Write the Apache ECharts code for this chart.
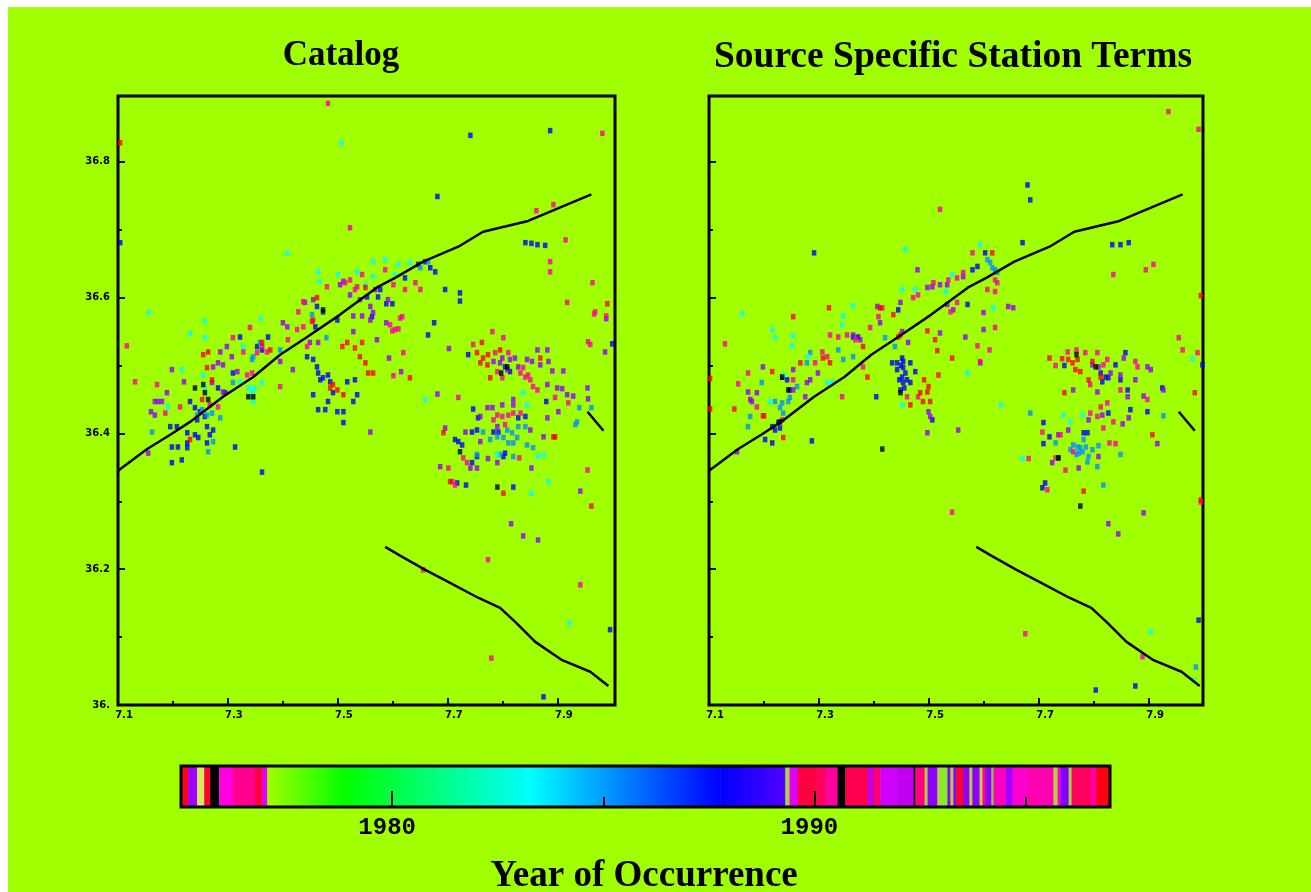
<!DOCTYPE html>
<html><head><meta charset="utf-8">
<style>html,body{margin:0;padding:0;background:#fff;overflow:hidden}#main{width:1311px;height:892px;filter:blur(0.5px)}</style>
<script src="https://cdn.jsdelivr.net/npm/echarts@6/dist/echarts.min.js"></script>
</head><body><div id="main"></div>
<script>
// Axis values and tick labels
const xTickValues=[7.1,7.3,7.5,7.7,7.9];
const xTickLabels=['7.1','7.3','7.5','7.7','7.9'];
const xMinorValues=[7.2,7.4,7.6,7.8];
const yTickValues=[36,36.2,36.4,36.6,36.8];
const yTickLabels=['36.','36.2','36.4','36.6','36.8'];
const yMinorValues=[36.1,36.3,36.5,36.7];
const barMajorYears=[1980,1990];
const barMinorYears=[1985,1995];

// Fault traces
const faultNorth=[[7.1,36.345],[7.153,36.377],[7.195,36.398],[7.231,36.417],[7.291,36.454],[7.346,36.483],[7.395,36.516],[7.444,36.542],[7.504,36.575],[7.571,36.615],[7.604,36.629],[7.655,36.653],[7.719,36.675],[7.764,36.697],[7.846,36.713],[7.961,36.752]];
const faultSouth=[[7.586,36.233],[7.613,36.22],[7.659,36.199],[7.704,36.18],[7.755,36.158],[7.795,36.143],[7.823,36.122],[7.859,36.093],[7.908,36.066],[7.959,36.049],[7.992,36.028]];
const faultEast=[[7.954,36.432],[7.983,36.404]];

// Catalog locations, by colour class of the year scale
const catalogBlue=[[7.231,36.447],[7.24,36.438],[7.249,36.432],[7.258,36.425],[7.244,36.42],[7.226,36.401],[7.226,36.386],[7.226,36.379],[7.24,36.398],[7.246,36.394],[7.262,36.41],[7.273,36.405],[7.267,36.398],[7.262,36.386],[7.198,36.38],[7.209,36.38],[7.313,36.38],[7.362,36.343],[7.198,36.357],[7.216,36.361],[7.195,36.41],[7.207,36.41],[7.444,36.513],[7.455,36.509],[7.462,36.498],[7.464,36.489],[7.473,36.482],[7.482,36.486],[7.486,36.476],[7.468,36.479],[7.455,36.457],[7.491,36.46],[7.535,36.457],[7.528,36.447],[7.464,36.435],[7.477,36.435],[7.499,36.432],[7.51,36.432],[7.51,36.416],[7.482,36.447],[7.517,36.476],[7.531,36.479],[7.462,36.587],[7.459,36.557],[7.473,36.579],[7.499,36.567],[7.573,36.601],[7.562,36.572],[7.553,36.601],[7.309,36.489],[7.282,36.467],[7.295,36.46],[7.362,36.523],[7.353,36.528],[7.373,36.542],[7.322,36.542],[7.659,36.653],[7.668,36.644],[7.646,36.649],[7.677,36.638],[7.695,36.612],[7.722,36.607],[7.577,36.612],[7.622,36.629],[7.588,36.591],[7.599,36.591],[7.681,36.749],[7.741,36.839],[7.886,36.846],[7.841,36.681],[7.852,36.68],[7.863,36.678],[7.877,36.677],[7.104,36.681],[7.675,36.563],[7.664,36.545],[7.722,36.595],[7.999,36.532],[7.737,36.516],[7.804,36.498],[7.813,36.491],[7.879,36.447],[7.746,36.436],[7.755,36.423],[7.841,36.425],[7.828,36.423],[7.783,36.402],[7.792,36.402],[7.753,36.405],[7.744,36.402],[7.719,36.388],[7.726,36.383],[7.713,36.391],[7.804,36.371],[7.753,36.366],[7.744,36.357],[7.801,36.366],[7.819,36.321],[7.733,36.324],[7.717,36.327],[7.995,36.111],[7.874,36.012]];
const catalogViolet=[[7.173,36.447],[7.167,36.447],[7.18,36.447],[7.189,36.46],[7.16,36.432],[7.167,36.427],[7.198,36.494],[7.22,36.476],[7.273,36.498],[7.282,36.504],[7.291,36.501],[7.286,36.52],[7.298,36.528],[7.307,36.513],[7.317,36.491],[7.291,36.461],[7.271,36.475],[7.418,36.494],[7.4,36.563],[7.408,36.557],[7.455,36.597],[7.44,36.593],[7.449,36.534],[7.464,36.534],[7.528,36.573],[7.564,36.578],[7.559,36.587],[7.51,36.624],[7.528,36.55],[7.571,36.538],[7.155,36.371],[7.559,36.402],[7.395,36.506],[7.54,36.597],[7.568,36.612],[7.591,36.597],[7.522,36.604],[7.504,36.619],[7.559,36.567],[7.544,36.573],[7.588,36.563],[7.988,36.569],[7.986,36.52],[7.783,36.506],[7.795,36.504],[7.813,36.509],[7.822,36.511],[7.828,36.498],[7.844,36.509],[7.853,36.506],[7.863,36.523],[7.881,36.523],[7.883,36.506],[7.89,36.492],[7.868,36.501],[7.91,36.492],[7.799,36.511],[7.808,36.494],[7.908,36.466],[7.899,36.467],[7.917,36.457],[7.954,36.467],[7.928,36.455],[7.881,36.472],[7.955,36.451],[7.593,36.511],[7.615,36.491],[7.702,36.525],[7.681,36.458],[7.901,36.432],[7.881,36.423],[7.819,36.45],[7.819,36.442],[7.772,36.438],[7.781,36.438],[7.799,36.442],[7.759,36.425],[7.79,36.41],[7.759,36.388],[7.732,36.402],[7.695,36.408],[7.85,36.405],[7.874,36.395],[7.773,36.363],[7.79,36.357],[7.852,36.349],[7.741,36.349],[7.753,36.349],[7.686,36.351],[7.815,36.267],[7.837,36.249],[7.864,36.243],[7.941,36.315]];
const catalogRose=[[7.131,36.476],[7.171,36.472],[7.186,36.43],[7.213,36.439],[7.267,36.442],[7.282,36.439],[7.335,36.486],[7.344,36.489],[7.362,36.528],[7.353,36.519],[7.371,36.52],[7.328,36.52],[7.395,36.469],[7.428,36.579],[7.437,36.594],[7.426,36.553],[7.409,36.538],[7.48,36.616],[7.522,36.626],[7.535,36.616],[7.544,36.634],[7.444,36.528],[7.34,36.556],[7.309,36.541],[7.522,36.703],[7.116,36.529],[7.437,36.557],[7.455,36.567],[7.482,36.886],[7.981,36.842],[7.861,36.728],[7.892,36.737],[7.914,36.685],[7.886,36.653],[7.886,36.638],[7.963,36.622],[7.968,36.579],[7.988,36.573],[7.513,36.622],[7.531,36.612],[7.586,36.641],[7.601,36.619],[7.622,36.612],[7.641,36.622],[7.65,36.612],[7.595,36.56],[7.604,36.553],[7.613,36.57],[7.746,36.531],[7.786,36.519],[7.79,36.491],[7.799,36.482],[7.832,36.489],[7.841,36.483],[7.85,36.479],[7.855,36.469],[7.863,36.464],[7.837,36.497],[7.846,36.486],[7.81,36.519],[7.781,36.55],[7.801,36.541],[7.917,36.593],[7.966,36.576],[7.617,36.572],[7.599,36.551],[7.61,36.554],[7.619,36.519],[7.601,36.485],[7.955,36.535],[7.959,36.531],[7.719,36.453],[7.895,36.453],[7.919,36.445],[7.79,36.427],[7.799,36.425],[7.81,36.427],[7.819,36.43],[7.832,36.43],[7.783,36.42],[7.804,36.413],[7.701,36.349],[7.728,36.364],[7.735,36.357],[7.708,36.329],[7.713,36.324],[7.83,36.364],[7.954,36.346],[7.655,36.199],[7.779,36.069],[7.941,36.177],[7.773,36.214]];
const catalogRed=[[7.264,36.52],[7.255,36.516],[7.262,36.497],[7.271,36.479],[7.462,36.6],[7.453,36.565],[7.491,36.472],[7.499,36.464],[7.486,36.467],[7.51,36.457],[7.517,36.534],[7.508,36.528],[7.531,36.526],[7.544,36.534],[7.54,36.513],[7.55,36.504],[7.555,36.489],[7.564,36.489],[7.253,36.45],[7.231,36.391],[7.362,36.534],[7.377,36.523],[7.104,36.828],[7.55,36.615],[7.753,36.519],[7.759,36.504],[7.764,36.511],[7.773,36.516],[7.772,36.501],[7.762,36.534],[7.795,36.523],[7.777,36.482],[7.868,36.511],[7.892,36.395],[7.631,36.482],[7.99,36.591],[7.801,36.312],[7.961,36.293],[7.704,36.329],[7.692,36.401],[7.895,36.395]];
const catalogAzure=[[7.346,36.513],[7.253,36.435],[7.244,36.427],[7.262,36.427],[7.162,36.402],[7.309,36.475],[7.358,36.534],[7.344,36.509],[7.395,36.523],[7.453,36.575],[7.479,36.541],[7.271,36.43],[7.286,36.423],[7.273,36.388],[7.264,36.373],[7.65,36.644],[7.664,36.653],[7.808,36.405],[7.817,36.401],[7.826,36.394],[7.819,36.386],[7.828,36.41],[7.841,36.41],[7.844,36.383],[7.79,36.395],[7.777,36.391],[7.801,36.394],[7.81,36.386],[7.855,36.379],[7.764,36.402],[7.753,36.369],[7.935,36.417],[7.932,36.413],[7.939,36.438],[7.961,36.438],[7.795,36.369],[7.819,36.366]];
const catalogCyan=[[7.344,36.464],[7.337,36.467],[7.349,36.467],[7.344,36.457],[7.346,36.447],[7.258,36.467],[7.255,36.486],[7.322,36.476],[7.328,36.528],[7.362,36.475],[7.464,36.638],[7.466,36.624],[7.5,36.634],[7.535,36.638],[7.564,36.653],[7.564,36.631],[7.55,36.619],[7.156,36.578],[7.258,36.565],[7.231,36.547],[7.258,36.541],[7.36,36.569],[7.408,36.665],[7.506,36.828],[7.216,36.494],[7.191,36.439],[7.586,36.656],[7.61,36.649],[7.631,36.652],[7.604,36.634],[7.837,36.46],[7.844,36.442],[7.659,36.45],[7.79,36.369],[7.883,36.329],[7.852,36.312],[7.864,36.366],[7.874,36.369],[7.921,36.121]];
const catalogBlack=[[7.24,36.467],[7.258,36.46],[7.255,36.472],[7.264,36.45],[7.337,36.454],[7.346,36.454],[7.473,36.582],[7.722,36.373],[7.79,36.321],[7.808,36.498],[7.797,36.489]];

// Source specific station term locations, by colour class
const sourceBlue=[[7.442,36.504],[7.453,36.506],[7.466,36.504],[7.453,36.497],[7.457,36.489],[7.451,36.483],[7.46,36.479],[7.453,36.475],[7.448,36.464],[7.466,36.475],[7.475,36.491],[7.451,36.511],[7.433,36.504],[7.442,36.494],[7.449,36.5],[7.446,36.479],[7.455,36.467],[7.291,36.666],[7.287,36.389],[7.404,36.454],[7.506,36.42],[7.215,36.41],[7.226,36.416],[7.22,36.405],[7.229,36.408],[7.215,36.386],[7.202,36.391],[7.242,36.479],[7.233,36.483],[7.247,36.464],[7.362,36.542],[7.371,36.542],[7.444,36.582],[7.57,36.59],[7.579,36.641],[7.588,36.646],[7.602,36.666],[7.679,36.766],[7.684,36.744],[7.67,36.681],[7.833,36.678],[7.848,36.678],[7.863,36.681],[7.803,36.022],[7.875,36.028],[7.99,36.125],[7.857,36.519],[7.815,36.476],[7.826,36.482],[7.839,36.501],[7.848,36.479],[7.861,36.464],[7.821,36.483],[7.746,36.5],[7.866,36.435],[7.897,36.432],[7.708,36.416],[7.708,36.385],[7.719,36.395],[7.781,36.401],[7.735,36.364],[7.711,36.327],[7.706,36.32],[7.997,36.501],[7.812,36.489],[7.924,36.467],[7.788,36.401],[7.826,36.43]];
const sourceViolet=[[7.151,36.373],[7.175,36.45],[7.187,36.46],[7.171,36.461],[7.178,36.447],[7.198,36.498],[7.253,36.494],[7.278,36.475],[7.284,36.479],[7.275,36.454],[7.298,36.489],[7.253,36.464],[7.499,36.432],[7.502,36.425],[7.497,36.401],[7.553,36.405],[7.479,36.641],[7.497,36.615],[7.506,36.616],[7.52,36.619],[7.533,36.619],[7.448,36.593],[7.406,36.587],[7.411,36.563],[7.362,36.545],[7.375,36.538],[7.462,36.534],[7.451,36.55],[7.566,36.542],[7.599,36.553],[7.599,36.578],[7.653,36.585],[7.644,36.587],[7.593,36.504],[7.52,36.548],[7.533,36.59],[7.544,36.582],[7.562,36.631],[7.797,36.501],[7.808,36.498],[7.83,36.489],[7.848,36.486],[7.854,36.511],[7.875,36.479],[7.861,36.454],[7.762,36.464],[7.806,36.461],[7.897,36.498],[7.903,36.494],[7.926,36.464],[7.89,36.455],[7.863,36.423],[7.852,36.414],[7.915,36.385],[7.808,36.366],[7.724,36.357],[7.753,36.405],[7.772,36.349],[7.89,36.283],[7.826,36.267],[7.844,36.252],[7.79,36.42],[7.815,36.427],[7.735,36.398]];
const sourceRose=[[7.129,36.532],[7.153,36.473],[7.171,36.489],[7.187,36.439],[7.198,36.426],[7.253,36.479],[7.293,36.504],[7.315,36.513],[7.306,36.52],[7.32,36.545],[7.335,36.542],[7.351,36.545],[7.366,36.538],[7.393,36.556],[7.415,36.585],[7.408,36.572],[7.471,36.6],[7.48,36.604],[7.508,36.622],[7.535,36.626],[7.551,36.629],[7.562,36.637],[7.579,36.666],[7.62,36.626],[7.624,36.622],[7.606,36.612],[7.62,36.609],[7.539,36.579],[7.551,36.593],[7.62,36.556],[7.588,36.529],[7.61,36.523],[7.593,36.506],[7.233,36.42],[7.38,36.498],[7.342,36.454],[7.46,36.454],[7.48,36.454],[7.448,36.545],[7.935,36.874],[7.99,36.848],[7.52,36.73],[7.894,36.641],[7.908,36.649],[7.835,36.634],[7.675,36.105],[7.888,36.071],[7.542,36.284],[7.752,36.52],[7.768,36.523],[7.784,36.519],[7.73,36.5],[7.793,36.472],[7.824,36.509],[7.806,36.519],[7.848,36.464],[7.817,36.501],[7.875,36.506],[7.879,36.498],[7.961,36.523],[7.954,36.541],[7.897,36.45],[7.988,36.519],[7.824,36.445],[7.793,36.43],[7.806,36.425],[7.812,36.439],[7.817,36.408],[7.835,36.417],[7.739,36.398],[7.706,36.402],[7.681,36.363],[7.839,36.385],[7.828,36.386],[7.748,36.346],[7.762,36.373],[7.73,36.364],[7.715,36.317],[7.994,36.299]];
const sourceRed=[[7.215,36.491],[7.253,36.572],[7.318,36.585],[7.146,36.436],[7.2,36.426],[7.235,36.394],[7.266,36.504],[7.307,36.511],[7.32,36.504],[7.38,36.528],[7.388,36.483],[7.411,36.585],[7.435,36.575],[7.444,36.542],[7.497,36.551],[7.511,36.538],[7.515,36.522],[7.517,36.486],[7.542,36.511],[7.499,36.469],[7.497,36.461],[7.484,36.46],[7.489,36.447],[7.502,36.447],[7.466,36.442],[7.491,36.479],[7.615,36.666],[7.102,36.481],[7.102,36.436],[7.994,36.603],[7.994,36.302],[7.753,36.509],[7.766,36.494],[7.775,36.491],[7.761,36.504],[7.742,36.51],[7.719,36.511],[7.797,36.506],[7.746,36.46],[7.812,36.483],[7.906,36.398],[7.983,36.46],[7.781,36.315],[7.77,36.509],[7.79,36.479]];
const sourceAzure=[[7.175,36.425],[7.171,36.41],[7.229,36.438],[7.235,36.43],[7.233,36.445],[7.244,36.447],[7.22,36.447],[7.26,36.469],[7.247,36.453],[7.196,36.475],[7.278,36.504],[7.284,36.519],[7.335,36.523],[7.344,36.509],[7.362,36.513],[7.42,36.541],[7.438,36.528],[7.611,36.652],[7.62,36.641],[7.624,36.637],[7.606,36.656],[7.615,36.644],[7.77,36.38],[7.779,36.373],[7.79,36.366],[7.762,36.383],[7.772,36.371],[7.781,36.391],[7.788,36.358],[7.797,36.376],[7.808,36.382],[7.757,36.376],[7.926,36.426],[7.848,36.369],[7.817,36.324],[7.684,36.43],[7.806,36.351],[7.73,36.386],[7.775,36.379],[7.785,36.38],[7.768,36.369],[7.985,36.056]];
const sourceCyan=[[7.16,36.576],[7.215,36.553],[7.22,36.541],[7.253,36.544],[7.251,36.529],[7.362,36.588],[7.344,36.573],[7.342,36.56],[7.315,36.475],[7.326,36.476],[7.32,36.472],[7.457,36.671],[7.451,36.612],[7.475,36.612],[7.542,36.634],[7.53,36.609],[7.593,36.678],[7.617,36.585],[7.57,36.489],[7.631,36.442],[7.451,36.442],[7.235,36.486],[7.211,36.447],[7.28,36.513],[7.779,36.427],[7.757,36.417],[7.979,36.51],[7.67,36.363],[7.744,36.427],[7.903,36.108],[7.981,36.037]];
const sourceBlack=[[7.233,36.483],[7.244,36.464],[7.229,36.417],[7.448,36.46],[7.415,36.377],[7.768,36.516],[7.803,36.498],[7.735,36.364],[7.775,36.293]];

// Year scale: edge years of the colour stripes
const barEdges=[1975,1975.17,1975.38,1975.55,1975.69,1975.9,1976.23,1976.75,1976.92,1977.04,1978.89,1983.27,1987.77,1989.31,1989.41,1989.6,1990.07,1990.26,1990.55,1990.73,1991.26,1991.4,1991.56,1991.97,1992.35,1992.39,1992.61,1992.68,1992.91,1992.99,1993.15,1993.22,1993.29,1993.36,1993.53,1993.67,1993.74,1993.91,1993.98,1994.05,1994.19,1994.24,1994.53,1994.69,1995.05,1995.66,1995.76,1995.83,1996.02,1996.09,1996.54,1996.68,1997.01];
const barColours=['#ff0020','#a000ff','#d8e860','#ff0030','#000000','#ff00e0','#ff0090','#ff0040','#e000ff',['#a0ff00','#00ff00'],['#00ff00','#00ffff'],['#00ffff','#0000ff'],['#0000ff','#5000ff'],'#b0d040','#e000ff','#ff0040','#ff0060','#ff00a0','#000000','#ff0050','#c000e0','#ff0070','#d000ff','#c000f0','#000000','#ff0080','#b0d040','#9000ff','#b0d040','#80f020','#9000ff','#b0d040','#9000ff','#ff0030','#9000ff','#b0d040','#9000ff','#c0d040','#ff0090','#9000ff','#80d040','#ff00c0','#a000ff','#ff00d0','#ff00b0','#b0d040','#ff00d0','#8000ff','#b0d040','#ff0060','#ff00a0','#ff0010'];

const black='#000000',font='DejaVu Sans';
const classColours={blue:'#0000ff',violet:'#9000ff',rose:'#ff00a0',red:'#ff0000',azure:'#0090ff',cyan:'#00ffff',black:'#000000'};
const panels=[
 {grid:{left:118,top:96,width:497,height:609},xMax:8.004,labelsY:true,
  sets:{blue:catalogBlue,azure:catalogAzure,cyan:catalogCyan,violet:catalogViolet,rose:catalogRose,red:catalogRed,black:catalogBlack}},
 {grid:{left:709,top:96,width:494,height:609},xMax:7.998,labelsY:false,
  sets:{blue:sourceBlue,azure:sourceAzure,cyan:sourceCyan,violet:sourceViolet,rose:sourceRose,red:sourceRed,black:sourceBlack}}
];
const yMax=36.897;
const grids=[],xAxes=[],yAxes=[],series=[];
const lbl=(vals,txt)=>v=>{const i=vals.findIndex(t=>Math.abs(t-v)<1e-6);return i<0?'':txt[i];};
panels.forEach((p,i)=>{
  grids.push(Object.assign({show:true,borderWidth:3,borderColor:black,backgroundColor:'transparent'},p.grid));
  const xMajor=xAxes.length,yMajor=yAxes.length;
  xAxes.push({type:'value',gridIndex:i,min:7.1,max:p.xMax,interval:0.2,splitLine:{show:false},axisLine:{show:false},
    axisTick:{inside:true,length:7,lineStyle:{color:black,width:2},customValues:xTickValues},
    axisLabel:{customValues:xTickValues,formatter:lbl(xTickValues,xTickLabels),color:black,fontFamily:font,fontWeight:'bold',fontSize:10,margin:5,padding:[0,0,0,12]}});
  xAxes.push({type:'value',gridIndex:i,min:7.1,max:p.xMax,position:'bottom',splitLine:{show:false},axisLine:{show:false},axisLabel:{show:false},
    axisTick:{inside:true,length:4,lineStyle:{color:black,width:2},customValues:xMinorValues}});
  yAxes.push({type:'value',gridIndex:i,min:36,max:yMax,interval:0.2,splitLine:{show:false},axisLine:{show:false},
    axisTick:{inside:true,length:7,lineStyle:{color:black,width:2},customValues:yTickValues},
    axisLabel:{show:p.labelsY,customValues:yTickValues,formatter:lbl(yTickValues,yTickLabels),color:black,fontFamily:font,fontWeight:'bold',fontSize:10,margin:8,padding:[8,0,0,0]}});
  yAxes.push({type:'value',gridIndex:i,min:36,max:yMax,position:'left',splitLine:{show:false},axisLine:{show:false},axisLabel:{show:false},
    axisTick:{inside:true,length:4,lineStyle:{color:black,width:2},customValues:yMinorValues}});
  Object.keys(p.sets).forEach(k=>series.push({type:'scatter',name:k,xAxisIndex:xMajor,yAxisIndex:yMajor,data:p.sets[k],symbol:'rect',symbolSize:[4.5,5.5],itemStyle:{color:classColours[k]},silent:true,animation:false}));
  [faultNorth,faultSouth,faultEast].forEach(f=>series.push({type:'line',xAxisIndex:xMajor,yAxisIndex:yMajor,data:f,symbol:'none',z:3,lineStyle:{color:black,width:2.5},silent:true,animation:false}));
});
// Year scale
const barG=grids.length,barX=xAxes.length,barY=yAxes.length;
grids.push({show:true,left:181,top:766,width:929,height:41,borderWidth:3,borderColor:black,backgroundColor:'transparent',z:3});
xAxes.push({type:'value',gridIndex:barG,min:1975,max:1997,interval:5,splitLine:{show:false},axisLine:{show:false},z:6,
  axisTick:{inside:true,length:16,lineStyle:{color:black,width:2},customValues:barMajorYears},
  axisLabel:{customValues:barMajorYears,formatter:v=>String(v),color:black,fontFamily:'Liberation Mono',fontWeight:'bold',fontSize:24,margin:9,padding:[0,10,0,0]}});
xAxes.push({type:'value',gridIndex:barG,min:1975,max:1997,position:'bottom',splitLine:{show:false},axisLine:{show:false},axisLabel:{show:false},z:6,
  axisTick:{inside:true,length:10,lineStyle:{color:black,width:2},customValues:barMinorYears}});
yAxes.push({type:'value',gridIndex:barG,min:0,max:1,show:false});
series.push({type:'custom',xAxisIndex:barX,yAxisIndex:barY,silent:true,animation:false,z:1,clip:true,encode:{x:[0,1]},
  data:barColours.map((c,i)=>[barEdges[i],barEdges[i+1],i]),
  renderItem:(params,api)=>{
    const a=api.coord([api.value(0),1]),b=api.coord([api.value(1),0]);
    const c=barColours[api.value(2)];
    const fill=Array.isArray(c)?new echarts.graphic.LinearGradient(0,0,1,0,[{offset:0,color:c[0]},{offset:1,color:c[1]}]):c;
    return {type:'rect',shape:{x:a[0],y:a[1],width:b[0]-a[0]+0.5,height:b[1]-a[1]},style:{fill:fill}};
  }});
const titleStyle=size=>({fontFamily:'Liberation Serif',fontWeight:'bold',fontSize:size,color:black});
const chart=echarts.init(document.getElementById('main'),null,{renderer:'canvas'});
chart.setOption({
  animation:false,backgroundColor:'#ffffff',
  graphic:[{type:'rect',z:-10,silent:true,shape:{x:8,y:7,width:1303,height:885},style:{fill:'#a0ff00'}}],
  title:[
   {text:'Catalog',left:336,top:33,textAlign:'center',textStyle:titleStyle(35)},
   {text:'Source Specific Station Terms',left:948,top:33,textAlign:'center',textStyle:titleStyle(37.5)},
   {text:'Year of Occurrence',left:639,top:853,textAlign:'center',textStyle:titleStyle(37)}
  ],
  grid:grids,xAxis:xAxes,yAxis:yAxes,series:series
});
</script></body></html>
